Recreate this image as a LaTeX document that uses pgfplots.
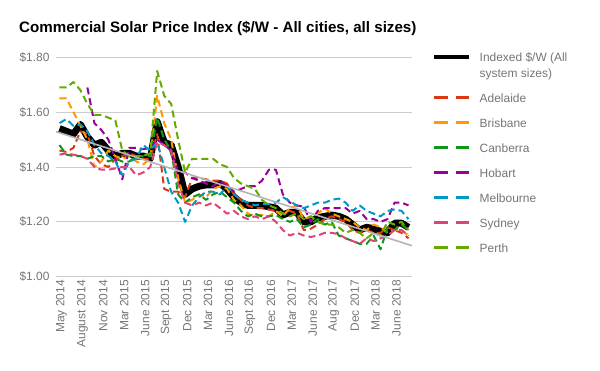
\documentclass[border=0pt]{standalone}
\usepackage{fontspec}
\setmainfont{Liberation Sans}
\usepackage{pgfplots}
\usepackage{pgfplotstable}
\pgfplotsset{compat=1.18}
\definecolor{cAde}{HTML}{DC3912}
\definecolor{cBri}{HTML}{FF9900}
\definecolor{cCan}{HTML}{109618}
\definecolor{cHob}{HTML}{990099}
\definecolor{cMel}{HTML}{0099C6}
\definecolor{cSyd}{HTML}{DD4477}
\definecolor{cPer}{HTML}{66AA00}
\definecolor{gridgray}{HTML}{CCCCCC}
\definecolor{trendgray}{HTML}{B4B4B4}
\definecolor{txtgray}{HTML}{757575}
\pgfplotstableread{
idx ind ade bri can hob mel syd per
0 1.540 1.46 1.65 1.48 nan 1.56 1.445 1.69
1 1.530 1.455 1.65 1.445 nan 1.575 1.45 1.69
2 1.520 1.47 1.60 1.44 nan 1.55 1.445 1.71
3 1.555 1.53 1.55 1.44 nan 1.555 1.44 1.68
4 1.510 1.52 1.50 1.43 1.69 1.53 1.43 1.63
5 1.480 1.44 1.40 1.44 1.56 1.48 1.40 1.59
6 1.490 1.41 1.42 1.44 1.535 1.45 1.39 1.59
7 1.460 1.40 1.46 1.42 1.50 1.44 1.39 1.58
8 1.440 1.43 1.44 1.43 1.43 1.42 1.395 1.57
9 1.450 1.44 1.43 1.42 1.355 1.37 1.40 1.46
10 1.450 1.45 1.44 1.42 1.47 1.42 1.40 1.44
11 1.440 1.44 1.42 1.44 1.47 1.43 1.37 1.44
12 1.440 1.43 1.41 1.44 1.465 1.48 1.38 1.44
13 1.430 1.43 1.43 1.44 1.47 1.46 1.40 1.45
14 1.565 1.52 1.66 1.58 1.50 1.49 1.49 1.75
15 1.490 1.32 1.56 1.50 1.48 1.40 1.48 1.66
16 1.480 1.31 1.50 1.46 1.46 1.31 1.46 1.63
17 1.400 1.31 1.36 1.30 1.38 1.27 1.34 1.50
18 1.300 1.29 1.27 1.27 1.38 1.20 1.27 1.38
19 1.320 1.36 1.28 1.29 1.36 1.26 1.26 1.43
20 1.330 1.36 1.30 1.30 1.35 1.29 1.27 1.43
21 1.335 1.355 1.29 1.28 1.34 1.31 1.26 1.43
22 1.335 1.35 1.32 1.30 1.33 1.31 1.27 1.43
23 1.340 1.35 1.33 1.31 1.35 1.30 1.25 1.41
24 1.320 1.34 1.32 1.29 1.33 1.33 1.23 1.40
25 1.290 1.30 1.28 1.27 1.31 1.30 1.24 1.36
26 1.270 1.28 1.26 1.24 1.32 1.28 1.22 1.34
27 1.260 1.26 1.23 1.22 1.33 1.27 1.21 1.33
28 1.260 1.25 1.22 1.23 1.33 1.26 1.22 1.32
29 1.260 1.25 1.225 1.22 1.35 1.265 1.21 1.28
30 1.255 1.245 1.22 1.22 1.39 1.265 1.22 1.26
31 1.250 1.24 1.24 1.225 1.39 1.27 1.20 1.25
32 1.225 1.23 1.22 1.21 1.30 1.29 1.17 1.23
33 1.235 1.24 1.25 1.20 1.27 1.275 1.15 1.22
34 1.235 1.23 1.26 1.21 1.26 1.26 1.16 1.23
35 1.200 1.17 1.21 1.18 1.255 1.25 1.15 1.21
36 1.200 1.175 1.22 1.19 1.20 1.26 1.145 1.22
37 1.215 1.19 1.23 1.21 1.24 1.27 1.15 1.20
38 1.220 1.21 1.25 1.19 1.25 1.27 1.16 1.19
39 1.225 1.22 1.23 1.20 1.25 1.28 1.16 1.19
40 1.220 1.21 1.22 1.15 1.25 1.285 1.155 1.18
41 1.210 1.20 1.21 1.14 1.25 1.27 1.14 1.16
42 1.190 1.17 1.20 1.13 1.23 1.24 1.13 1.17
43 1.170 1.16 1.18 1.12 1.24 1.26 1.12 1.16
44 1.180 1.17 1.17 1.12 1.21 1.24 1.14 1.14
45 1.175 1.16 1.19 1.15 1.21 1.23 1.13 1.16
46 1.165 1.16 1.18 1.10 1.20 1.22 1.14 1.15
47 1.160 1.18 1.16 1.18 1.21 1.24 1.15 1.20
48 1.195 1.17 1.17 1.17 1.27 1.245 1.17 1.19
49 1.195 1.16 1.17 1.19 1.27 1.24 1.17 1.20
50 1.180 1.14 1.15 1.17 1.26 1.21 1.15 1.17
}\data
\begin{document}
\begin{tikzpicture}
\useasboundingbox (0,0) rectangle (600bp,371bp);
\node[anchor=base west, inner sep=0pt, font=\fontsize{15.2}{18}\selectfont\bfseries] at (19bp,338bp) {Commercial Solar Price Index (\$/W - All cities, all sizes)};
\begin{axis}[
  at={(56bp,94.3bp)}, anchor=south west,
  scale only axis, width=356bp, height=219.4bp,
  xmin=-0.5, xmax=50.5, ymin=1, ymax=1.8,
  ytick={1,1.2,1.4,1.6,1.8},
  yticklabel={\$\pgfmathprintnumber[fixed,fixed zerofill,precision=2]{\tick}},
  /pgf/number format/assume math mode=true,
  xtick={0,3,...,48},
  xticklabels={May 2014,August 2014,Nov 2014,Mar 2015,June 2015,Sept 2015,Dec 2015,Mar 2016,June 2016,Sept 2016,Dec 2016,Mar 2017,June 2017,Aug 2017,Dec 2017,Mar 2018,June 2018},
  xticklabel style={rotate=90, anchor=east, yshift=-2bp},
  yticklabel style={xshift=-3bp},
  tick label style={font=\fontsize{12}{14}\selectfont, text=txtgray},
  axis line style={draw=none},
  major tick length=0pt,
  ymajorgrids, grid style={gridgray, line width=1bp},
  legend style={at={(1.0562,1.0219)}, anchor=north west, draw=none, fill=none,
    inner sep=0pt, outer sep=0pt, row sep=13bp, column sep=8.7bp,
    font=\fontsize{12}{16}\selectfont, text=txtgray,
    nodes={inner sep=0pt, anchor=base west, text height=9bp, text depth=3bp}},
  legend cell align=left,
  legend image code/.code={\draw[#1, line width=3.3bp, dash pattern=on 13.5bp off 8bp] (0bp,4.6bp) -- (35bp,4.6bp);},
  every axis plot/.append style={line join=round},
  cityline/.style={line width=2bp, dash pattern=on 7bp off 4bp},
]
\addplot[black, line width=7bp, legend image code/.code={\draw[black, line width=4bp] (0bp,4.6bp) -- (35bp,4.6bp);}] table[x=idx,y=ind]{\data};
\addlegendentry[text depth=18.8bp]{\vtop{\hbox{Indexed \$/W (All}\hbox{system sizes)}}}
\addplot[cAde, cityline] table[x=idx,y=ade]{\data};
\addlegendentry{Adelaide}
\addplot[cBri, cityline] table[x=idx,y=bri]{\data};
\addlegendentry{Brisbane}
\addplot[cCan, cityline] table[x=idx,y=can]{\data};
\addlegendentry{Canberra}
\addplot[cHob, cityline] table[x=idx,y=hob]{\data};
\addlegendentry{Hobart}
\addplot[cMel, cityline] table[x=idx,y=mel]{\data};
\addlegendentry{Melbourne}
\addplot[cSyd, cityline] table[x=idx,y=syd]{\data};
\addlegendentry{Sydney}
\addplot[cPer, cityline] table[x=idx,y=per]{\data};
\addlegendentry{Perth}
\addplot[trendgray, line width=1.6bp, forget plot] coordinates {(-0.5,1.529) (50.5,1.113)};
\end{axis}
\end{tikzpicture}
\end{document}
